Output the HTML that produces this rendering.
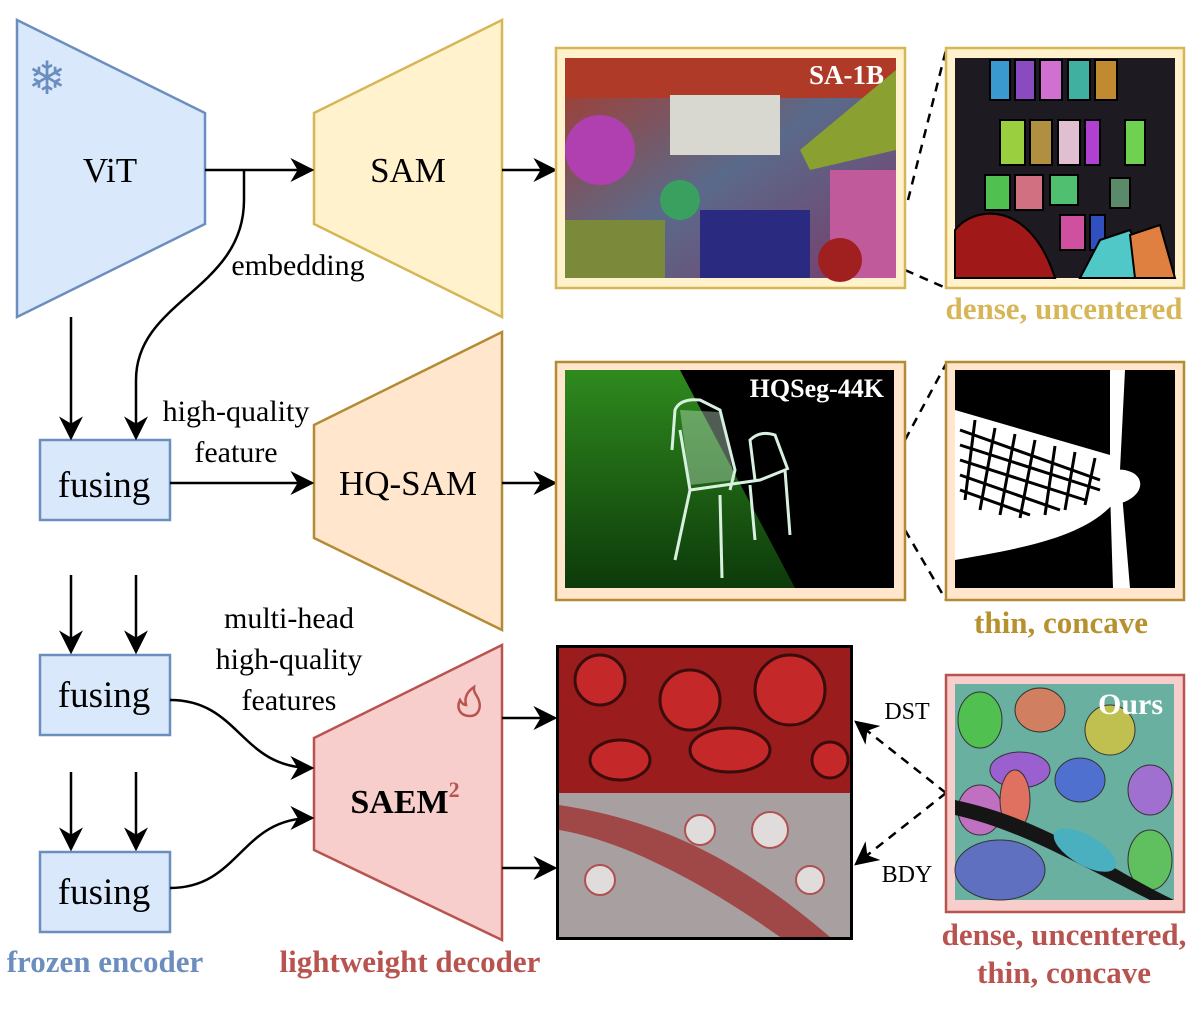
<!DOCTYPE html>
<html><head><meta charset="utf-8"><style>
html,body{margin:0;padding:0;background:#fff;}
svg{display:block;font-family:"Liberation Serif",serif;}
</style></head><body>
<svg width="1202" height="1016" viewBox="0 0 1202 1016" xmlns="http://www.w3.org/2000/svg">
<defs>
<marker id="a2" viewBox="0 0 10 10" refX="9" refY="5" markerWidth="24" markerHeight="24" markerUnits="userSpaceOnUse" orient="auto"><path d="M0,0 L10,5 L0,10 L3,5 Z" fill="#000"/></marker>
<linearGradient id="grass" x1="0" y1="0" x2="0" y2="1"><stop offset="0" stop-color="#2f8a1e"/><stop offset="1" stop-color="#0d3a0a"/></linearGradient>
<linearGradient id="mk" x1="0" y1="0" x2="1" y2="1"><stop offset="0" stop-color="#a83a2a"/><stop offset="0.5" stop-color="#5a6a8a"/><stop offset="1" stop-color="#7a3a6a"/></linearGradient>
</defs>

<polygon points="17,20 205,113 205,224 17,317" fill="#dae8fc" stroke="#6c8ebf" stroke-width="2.5"/>
<text x="110" y="182" font-size="35" text-anchor="middle">ViT</text>
<text x="47" y="94" font-size="46" text-anchor="middle" fill="#6c8ebf">❄</text>

<polygon points="314,113 502,20 502,317 314,224" fill="#fff2cc" stroke="#d6b656" stroke-width="2.5"/>
<text x="408" y="182" font-size="35" text-anchor="middle">SAM</text>

<polygon points="314,425 502,332 502,630 314,538" fill="#ffe6cc" stroke="#b48b35" stroke-width="2.5"/>
<text x="408" y="495" font-size="35" text-anchor="middle">HQ-SAM</text>

<polygon points="314,738 502,645 502,940 314,850" fill="#f8cecc" stroke="#b85450" stroke-width="2.5"/>
<text x="405" y="813" font-size="34" font-weight="bold" text-anchor="middle">SAEM<tspan font-size="22" fill="#b85450" dy="-16">2</tspan></text>
<path d="M470,716 c-10,0 -14,-8 -10,-16 c2,4 4,5 6,5 c-2,-8 2,-14 8,-18 c-1,6 4,9 5,14 c2,6 0,15 -9,15 z" fill="none" stroke="#b85450" stroke-width="2.5"/>

<rect x="40" y="440" width="130" height="80" fill="#dae8fc" stroke="#6c8ebf" stroke-width="2.5"/>
<text x="104" y="497" font-size="37" text-anchor="middle">fusing</text>
<rect x="40" y="655" width="130" height="80" fill="#dae8fc" stroke="#6c8ebf" stroke-width="2.5"/>
<text x="104" y="707" font-size="37" text-anchor="middle">fusing</text>
<rect x="40" y="852" width="130" height="80" fill="#dae8fc" stroke="#6c8ebf" stroke-width="2.5"/>
<text x="104" y="904" font-size="37" text-anchor="middle">fusing</text>

<g stroke="#000" stroke-width="2.5" fill="none">
<line x1="205" y1="170" x2="312" y2="170" marker-end="url(#a2)"/>
<path d="M244,170 L244,200 C244,290 136,300 136,380 L136,438" marker-end="url(#a2)"/>
<line x1="71" y1="317" x2="71" y2="438" marker-end="url(#a2)"/>
<line x1="170" y1="483" x2="312" y2="483" marker-end="url(#a2)"/>
<line x1="71" y1="575" x2="71" y2="652" marker-end="url(#a2)"/>
<line x1="136" y1="575" x2="136" y2="652" marker-end="url(#a2)"/>
<line x1="71" y1="772" x2="71" y2="849" marker-end="url(#a2)"/>
<line x1="136" y1="772" x2="136" y2="849" marker-end="url(#a2)"/>
<path d="M170,700 C240,700 240,768 312,768" marker-end="url(#a2)"/>
<path d="M170,888 C240,888 240,818 312,818" marker-end="url(#a2)"/>
<line x1="502" y1="170" x2="555" y2="170" marker-end="url(#a2)"/>
<line x1="502" y1="483" x2="555" y2="483" marker-end="url(#a2)"/>
<line x1="502" y1="718" x2="555" y2="718" marker-end="url(#a2)"/>
<line x1="502" y1="868" x2="555" y2="868" marker-end="url(#a2)"/>
<g stroke-dasharray="9,7">
<line x1="908" y1="200" x2="946" y2="50"/>
<line x1="905" y1="270" x2="946" y2="288"/>
<line x1="905" y1="440" x2="946" y2="364"/>
<line x1="905" y1="530" x2="946" y2="600"/>
<line x1="946" y1="793" x2="856" y2="722" marker-end="url(#a2)"/>
<line x1="946" y1="793" x2="856" y2="864" marker-end="url(#a2)"/>
</g>
</g>

<g font-size="30" text-anchor="middle">
<text x="298" y="275">embedding</text>
<text x="236" y="421">high-quality</text>
<text x="236" y="462">feature</text>
<text x="289" y="628">multi-head</text>
<text x="289" y="669">high-quality</text>
<text x="289" y="710">features</text>
<text x="907" y="719" font-size="24">DST</text>
<text x="907" y="882" font-size="24">BDY</text>
</g>
<g font-size="31" font-weight="bold" text-anchor="middle">
<text x="1064" y="319" fill="#d6b656">dense, uncentered</text>
<text x="1061" y="633" fill="#b8912f">thin, concave</text>
<text x="1064" y="945" fill="#b85450">dense, uncentered,</text>
<text x="1064" y="983" fill="#b85450">thin, concave</text>
<text x="105" y="972" fill="#6c8ebf">frozen encoder</text>
<text x="410" y="972" fill="#b85450">lightweight decoder</text>
</g>

<rect x="556" y="48" width="349" height="240" fill="#fff2cc" stroke="#d6b656" stroke-width="2.5"/>
<rect x="565" y="58" width="331" height="220" fill="url(#mk)"/>
<rect x="565" y="58" width="331" height="40" fill="#b03a28"/>
<rect x="670" y="95" width="110" height="60" fill="#d8d8d0"/>
<circle cx="600" cy="150" r="35" fill="#b040b0"/>
<rect x="565" y="220" width="100" height="58" fill="#7a8a3a"/>
<rect x="830" y="170" width="66" height="108" fill="#c05a9a"/>
<rect x="700" y="210" width="110" height="68" fill="#2a2a80"/>
<polygon points="800,150 896,70 896,150 810,170" fill="#8aa030"/>
<circle cx="840" cy="260" r="22" fill="#a02020"/>
<circle cx="680" cy="200" r="20" fill="#3aa060"/>
<text x="884" y="84" font-size="27" font-weight="bold" fill="#fff" text-anchor="end">SA-1B</text>

<rect x="946" y="48" width="238" height="240" fill="#fff2cc" stroke="#d6b656" stroke-width="2.5"/>
<rect x="955" y="58" width="220" height="220" fill="#1e1a22"/>
<g stroke="#000" stroke-width="2">
<rect x="990" y="60" width="20" height="40" fill="#3a9ad0"/><rect x="1015" y="60" width="20" height="40" fill="#8a4ac0"/><rect x="1040" y="60" width="22" height="40" fill="#d070d0"/><rect x="1068" y="60" width="22" height="40" fill="#40b0a0"/><rect x="1095" y="60" width="22" height="40" fill="#c08a30"/>
<rect x="1000" y="120" width="25" height="45" fill="#9ad040"/><rect x="1030" y="120" width="22" height="45" fill="#b09040"/><rect x="1058" y="120" width="22" height="45" fill="#e0c0d0"/><rect x="1085" y="120" width="15" height="45" fill="#b040d0"/><rect x="1125" y="120" width="20" height="45" fill="#70d050"/>
<rect x="985" y="175" width="25" height="35" fill="#50c050"/><rect x="1015" y="175" width="28" height="35" fill="#d07080"/><rect x="1050" y="175" width="28" height="30" fill="#50c070"/><rect x="1110" y="178" width="20" height="30" fill="#5a8a6a"/>
<rect x="1060" y="215" width="25" height="35" fill="#d050a0"/><rect x="1090" y="215" width="15" height="35" fill="#3050c0"/>
<polygon points="1080,278 1100,240 1130,230 1150,278" fill="#50c8c8"/>
<polygon points="1135,278 1130,235 1160,225 1175,278" fill="#e08040"/>
<path d="M955,278 L955,230 C975,205 1030,200 1055,278 Z" fill="#a01818"/>
</g>

<rect x="556" y="362" width="349" height="238" fill="#ffe6cc" stroke="#b48b35" stroke-width="2.5"/>
<rect x="565" y="370" width="329" height="218" fill="#000"/>
<polygon points="565,370 680,370 795,588 565,588" fill="url(#grass)"/>
<g stroke="#d8f0e0" stroke-width="3" fill="none">
<path d="M672,450 L675,410 Q680,398 700,400 L720,410 L735,470 L730,490"/>
<path d="M680,430 L690,490 L760,480 L785,470 L790,535"/>
<path d="M755,480 L750,440 Q760,430 775,435 L788,470"/>
<line x1="690" y1="490" x2="675" y2="560"/><line x1="720" y1="495" x2="722" y2="578"/><line x1="750" y1="485" x2="755" y2="540"/>
</g>
<polygon points="680,410 720,412 735,480 690,485" fill="#c8e8d0" opacity="0.4"/>
<text x="884" y="397" font-size="26" font-weight="bold" fill="#fff" text-anchor="end">HQSeg-44K</text>

<rect x="946" y="362" width="238" height="238" fill="#ffe6cc" stroke="#b48b35" stroke-width="2.5"/>
<rect x="955" y="370" width="220" height="218" fill="#000"/>
<g fill="#fff">
<polygon points="1110,370 1125,370 1120,470 1130,588 1113,588 1110,490"/>
<path d="M955,410 L1110,455 L1110,470 C1150,465 1150,500 1112,505 C1080,540 1010,550 955,560 Z"/>
</g>
<g stroke="#000" stroke-width="3">
<path d="M960,430 L1100,480 M960,445 L1100,490 M960,460 L1085,500 M960,475 L1060,510 M960,490 L1030,515" />
<path d="M975,420 L965,500 M995,428 L980,510 M1015,434 L1000,515 M1035,440 L1020,518 M1055,446 L1045,515 M1075,452 L1065,510 M1095,458 L1085,505"/>
</g>

<rect x="556" y="645" width="297" height="295" fill="#000"/>
<rect x="559" y="648" width="291" height="145" fill="#9a1c1c"/>
<rect x="559" y="793" width="291" height="144" fill="#a8a0a0"/>
<g fill="#c42828" stroke="#3a0c0c" stroke-width="3">
<circle cx="600" cy="680" r="25"/><circle cx="690" cy="700" r="30"/><circle cx="790" cy="690" r="35"/><ellipse cx="620" cy="760" rx="30" ry="20"/><ellipse cx="730" cy="750" rx="40" ry="22"/><circle cx="830" cy="760" r="18"/>
</g>
<path d="M559,830 C620,840 700,880 780,937 L830,937 C740,860 660,820 559,805 Z" fill="#a04848"/>
<g fill="#e0dcdc" stroke="#b05050" stroke-width="2"><circle cx="700" cy="830" r="15"/><circle cx="770" cy="830" r="18"/><circle cx="600" cy="880" r="15"/><circle cx="810" cy="880" r="14"/></g>

<rect x="946" y="675" width="238" height="237" fill="#f8cecc" stroke="#b85450" stroke-width="2.5"/>
<rect x="955" y="684" width="219" height="216" fill="#6ab0a0"/>
<g stroke="#333" stroke-width="1">
<ellipse cx="980" cy="720" rx="22" ry="28" fill="#50c050"/><ellipse cx="1040" cy="710" rx="25" ry="22" fill="#d08060"/><ellipse cx="1110" cy="730" rx="25" ry="25" fill="#c0c050"/><ellipse cx="1020" cy="770" rx="30" ry="18" fill="#9a60d0"/><ellipse cx="1080" cy="780" rx="25" ry="22" fill="#5070d0"/><ellipse cx="1150" cy="790" rx="22" ry="25" fill="#a070d0"/><ellipse cx="980" cy="810" rx="22" ry="25" fill="#c070c0"/><ellipse cx="1015" cy="800" rx="15" ry="30" fill="#e07060"/><ellipse cx="1000" cy="870" rx="45" ry="30" fill="#6070c0"/><ellipse cx="1150" cy="860" rx="22" ry="30" fill="#60c060"/>
</g>
<path d="M955,815 C1020,830 1070,860 1150,900 L1174,900 C1110,870 1050,820 955,800 Z" fill="#151515"/>
<ellipse cx="1085" cy="850" rx="35" ry="15" transform="rotate(30 1085 850)" fill="#4ab0c0"/>
<text x="1163" y="714" font-size="30" font-weight="bold" fill="#fff" text-anchor="end">Ours</text>
</svg>
</body></html>
